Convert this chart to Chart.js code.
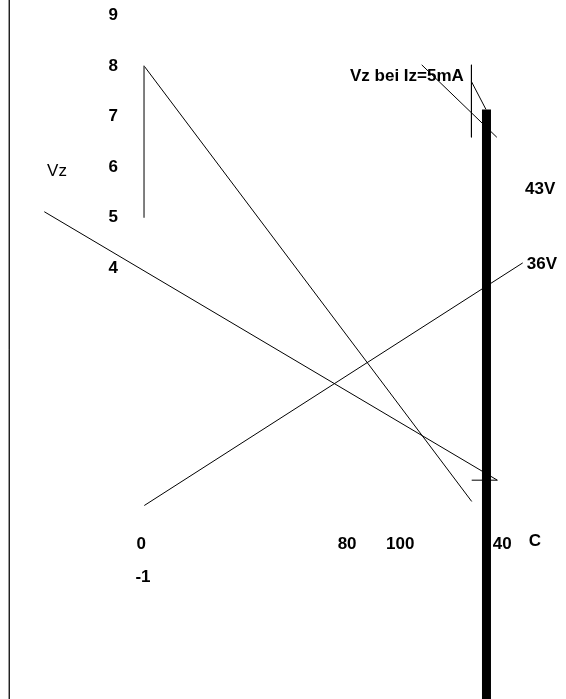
<!DOCTYPE html>
<html>
<head>
<meta charset="utf-8">
<script src="https://cdn.jsdelivr.net/npm/chart.js@4"></script>
<style>
    body { margin: 0; background: #fff; }
    #wrap { width: 566px; height: 699px; position: relative; }
</style>
</head>
<body>
<div id="wrap"><canvas id="zenerChart"></canvas></div>
<script>
// Axis ranges (x in temperature-ish units, y in Vz volts)
const xRange = [-54.5, 164];
const yRange = [-4.5, 9.3];

// Tick labels on the Vz axis
const yTickValues = [9, 8, 7, 6, 5, 4];
const yTickLabels = ['9', '8', '7', '6', '5', '4'];

// Labels along the bottom row
const xTickLabels = ['0', '80', '100', '40', 'C', '-1'];
const xTickValues = [0, 79.5, 100, 139.4, 152, 0.7];
const xTickRows = [-1.44, -1.44, -1.44, -1.44, -1.38, -2.09];

// Free text
const noteTexts = ['Vz', 'Vz bei Iz=5mA', '43V', '36V'];
const noteX = [-32.5, 102.6, 154, 154.7];
const noteY = [5.92, 7.79, 5.57, 4.09];

// Line segments, each as [x0, x1] / [y0, y1]
const frameX = [-50.9, -50.9];
const frameY = [9.3, -4.5];
const stemX = [1.1, 1.1];
const stemY = [8.0, 5.0];
const steepX = [1.1, 127.6];
const steepY = [8.0, -0.6];
const fallX = [-37.4, 137.5];
const fallY = [5.12, -0.18];
const riseX = [1.2, 147.3];
const riseY = [-0.68, 4.11];
const barX = [133.3, 133.3];
const barY = [7.14, -4.5];
const tickX = [127.6, 137.5];
const tickY = [-0.18, -0.18];
const pointerX = [108.3, 137.3];
const pointerY = [8.02, 6.59];
const leaderX = [127.5, 127.5];
const leaderY = [8.02, 6.59];
const hookX = [127.5, 133.1];
const hookY = [7.69, 7.14];

const pts = (xs, ys) => xs.map((x, i) => ({ x: x, y: ys[i] }));

const seg = (xs, ys, color, width) => ({
    data: pts(xs, ys),
    showLine: true,
    borderColor: color,
    borderWidth: width,
    borderCapStyle: 'butt',
    pointRadius: 0,
    fill: false
});

// Draw the text items through the scales
const textPlugin = {
    id: 'texts',
    afterDatasetsDraw(chart) {
        const ctx = chart.ctx;
        const xs = chart.scales.x;
        const ys = chart.scales.y;
        const bold = 'bold 17px "Liberation Sans", Arial, sans-serif';
        ctx.save();
        ctx.fillStyle = '#000';
        ctx.textAlign = 'center';
        ctx.textBaseline = 'middle';
        ctx.font = bold;
        yTickValues.forEach((v, i) => {
            ctx.fillText(yTickLabels[i], xs.getPixelForValue(-10.8), ys.getPixelForValue(v));
        });
        xTickLabels.forEach((t, i) => {
            ctx.fillText(t, xs.getPixelForValue(xTickValues[i]), ys.getPixelForValue(xTickRows[i]));
        });
        noteTexts.forEach((t, i) => {
            ctx.font = i === 0 ? '17px "Liberation Sans", Arial, sans-serif' : bold;
            ctx.fillText(t, xs.getPixelForValue(noteX[i]), ys.getPixelForValue(noteY[i]));
        });
        ctx.restore();
    }
};

const ctx = document.getElementById('zenerChart').getContext('2d');
new Chart(ctx, {
    type: 'scatter',
    data: {
        datasets: [
            seg(frameX, frameY, '#222', 1),
            seg(stemX, stemY, '#555', 1.5),
            seg(steepX, steepY, '#000', 1),
            seg(fallX, fallY, '#000', 1),
            seg(riseX, riseY, '#000', 1),
            seg(barX, barY, '#000', 9),
            seg(tickX, tickY, '#000', 1),
            seg(pointerX, pointerY, '#000', 1),
            seg(leaderX, leaderY, '#000', 1),
            seg(hookX, hookY, '#000', 1)
        ]
    },
    options: {
        responsive: true,
        maintainAspectRatio: false,
        animation: false,
        layout: { padding: 0 },
        scales: {
            x: { type: 'linear', min: xRange[0], max: xRange[1], display: false },
            y: { type: 'linear', min: yRange[0], max: yRange[1], display: false }
        },
        plugins: {
            legend: { display: false },
            tooltip: { enabled: false }
        }
    },
    plugins: [textPlugin]
});
</script>
</body>
</html>
